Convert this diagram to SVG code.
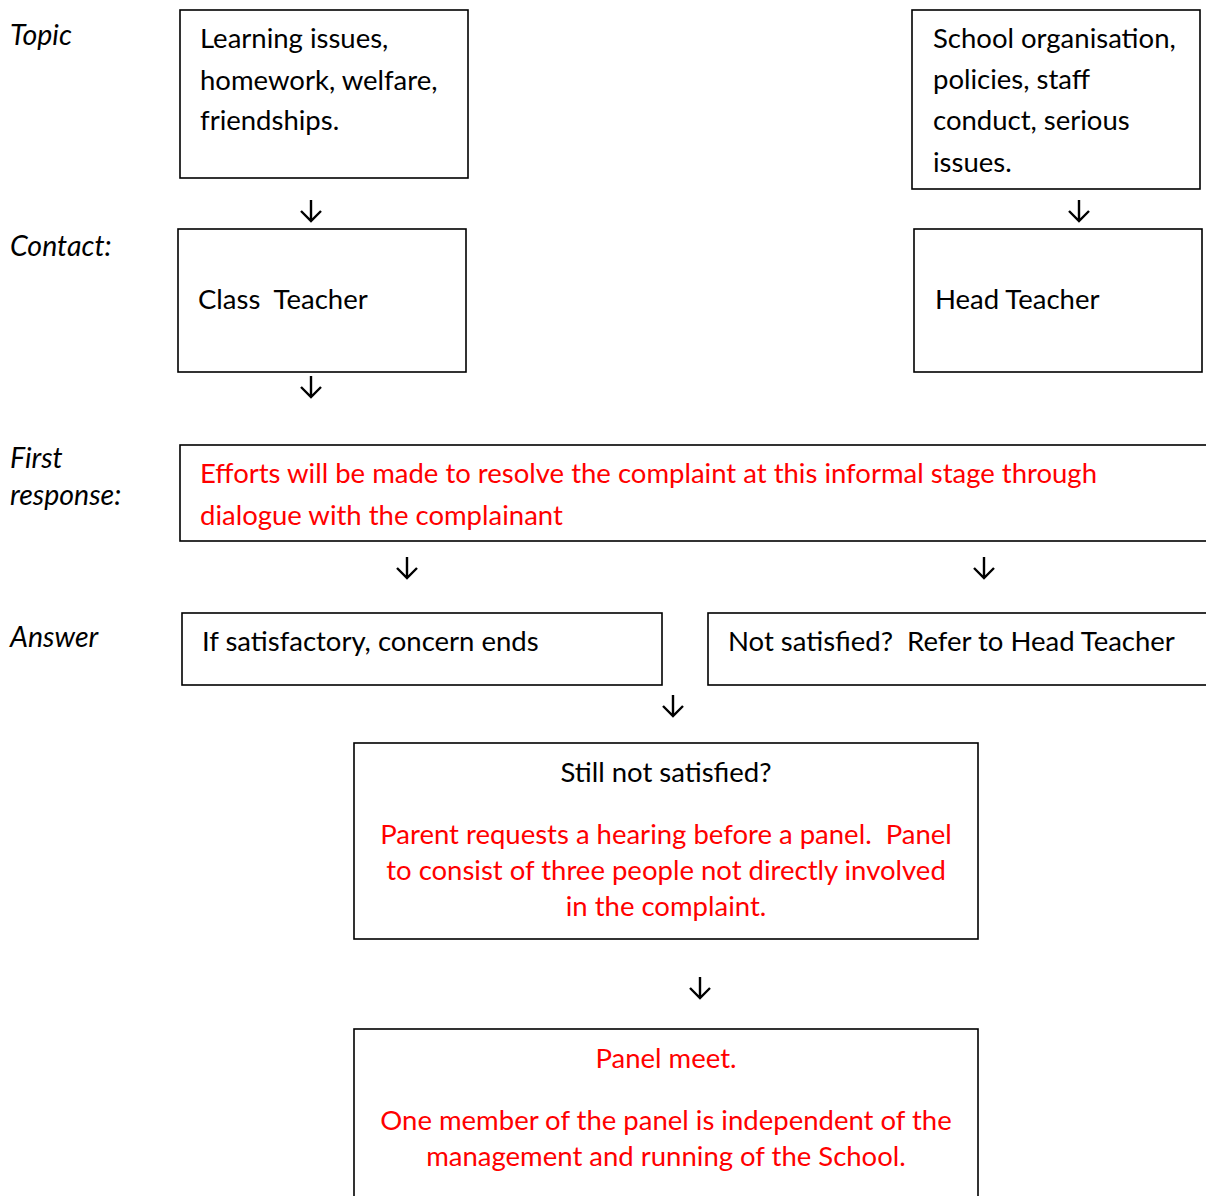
<svg xmlns="http://www.w3.org/2000/svg" width="1206" height="1196" viewBox="0 0 1206 1196">
<style>
text{font-family:Lato,"Liberation Sans",sans-serif;font-size:27.5px;fill:#000;white-space:pre}
.lab{font-style:italic;font-size:28.5px}
.red{fill:#ff0000}
.c{text-anchor:middle}
.box{fill:#fff;stroke:#000;stroke-width:1.6}
.arr{fill:none;stroke:#000;stroke-width:2.4}
</style>
<rect width="1206" height="1196" fill="#fff"/>
<g id="labels">
<text class="lab" x="10" y="45">Topic</text>
<text class="lab" x="10" y="256">Contact:</text>
<text class="lab" x="10" y="468">First</text>
<text class="lab" x="10" y="505">response:</text>
<text class="lab" x="10" y="647">Answer</text>
</g>
<g id="topic-left">
<rect class="box" x="180" y="10" width="288" height="168"/>
<text x="200" y="48">Learning issues,</text>
<text x="200" y="90">homework, welfare,</text>
<text x="200" y="130">friendships.</text>
</g>
<g id="topic-right">
<rect class="box" x="912" y="10" width="288" height="179"/>
<text x="933" y="48">School organisation,</text>
<text x="933" y="89">policies, staff</text>
<text x="933" y="130">conduct, serious</text>
<text x="933" y="172">issues.</text>
</g>
<g id="class-teacher">
<rect class="box" x="178" y="229" width="288" height="143"/>
<text x="198" y="309" xml:space="preserve">Class  Teacher</text>
</g>
<g id="head-teacher">
<rect class="box" x="914" y="229" width="288" height="143"/>
<text x="935" y="309">Head Teacher</text>
</g>
<g id="first-response">
<rect class="box" x="180" y="445" width="1040" height="96"/>
<text class="red" x="200" y="483">Efforts will be made to resolve the complaint at this informal stage through</text>
<text class="red" x="200" y="525">dialogue with the complainant</text>
</g>
<g id="satisfactory">
<rect class="box" x="182" y="613" width="480" height="72"/>
<text x="202" y="651">If satisfactory, concern ends</text>
</g>
<g id="not-satisfied">
<rect class="box" x="708" y="613" width="520" height="72"/>
<text x="728" y="651" xml:space="preserve">Not satisfied?  Refer to Head Teacher</text>
</g>
<g id="still-not-satisfied">
<rect class="box" x="354" y="743" width="624" height="196"/>
<text class="c" x="666" y="782">Still not satisfied?</text>
<text class="c red" x="666" y="844" xml:space="preserve">Parent requests a hearing before a panel.  Panel</text>
<text class="c red" x="666" y="880">to consist of three people not directly involved</text>
<text class="c red" x="666" y="916">in the complaint.</text>
</g>
<g id="panel-meet">
<rect class="box" x="354" y="1029" width="624" height="200"/>
<text class="c red" x="666" y="1068">Panel meet.</text>
<text class="c red" x="666" y="1130">One member of the panel is independent of the</text>
<text class="c red" x="666" y="1166">management and running of the School.</text>
</g>
<g id="connectors">
<path class="arr" d="M311 200V221M301 211L311 221L321 211"/>
<path class="arr" d="M1079 200V221M1069 211L1079 221L1089 211"/>
<path class="arr" d="M311 376V397M301 387L311 397L321 387"/>
<path class="arr" d="M407 557V578M397 568L407 578L417 568"/>
<path class="arr" d="M984 557V578M974 568L984 578L994 568"/>
<path class="arr" d="M673 695V716M663 706L673 716L683 706"/>
<path class="arr" d="M700 977V998M690 988L700 998L710 988"/>
</g>
</svg>
